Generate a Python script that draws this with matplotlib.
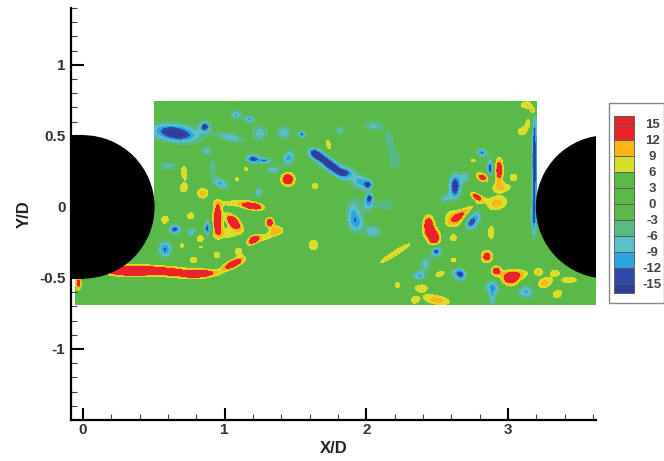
#!/usr/bin/env python3
"""Vorticity-style contour map between two cylinders, with a boxed level legend."""

import matplotlib
matplotlib.use("Agg")
import matplotlib.pyplot as plt
from matplotlib.colors import BoundaryNorm, ListedColormap
from matplotlib.patches import Circle, Rectangle
import numpy as np

plt.rcParams["font.family"] = ["Liberation Sans", "DejaVu Sans"]

levels = [-15, -12, -9, -6, -3, 0, 3, 6, 9, 12, 15]
band_colors = ["#2f3d9a", "#3149a8", "#2ba6e0", "#5cc0cb", "#58b985", "#5ab947",
               "#5ab947", "#5ab947", "#d9de2b", "#fdb515", "#e8232a", "#e8232a"]
level_labels = ["15", "12", "9", "6", "3", "0", "-3", "-6", "-9", "-12", "-15"]

x_ticks = [0, 1, 2, 3]
y_ticks = [-1, -0.5, 0, 0.5, 1]
y_tick_labels = ["-1", "-0.5", "0", "0.5", "1"]

# flow patches: x, y, half width, half height, tilt (deg), level
patches_left = [
    (0.65, 0.52, 0.09, 0.035, -8, -19), (0.86, 0.566, 0.022, 0.022, 20, -16),
    (1.08, 0.648, 0.024, 0.02, 0, -10), (1.175, 0.617, 0.022, 0.016, 0, -11),
    (1.04, 0.488, 0.06, 0.02, -12, -9), (1.25, 0.52, 0.035, 0.035, 0, -8),
    (1.415, 0.523, 0.03, 0.028, 0, -9), (1.544, 0.512, 0.018, 0.014, 0, -14),
    (0.873, 0.394, 0.024, 0.02, 0, -8), (1.198, 0.338, 0.028, 0.02, 0, -16),
    (1.285, 0.326, 0.025, 0.012, 0, -13), (1.344, 0.26, 0.03, 0.018, 0, -9),
    (1.45, 0.343, 0.024, 0.035, -20, -11), (1.445, 0.195, 0.028, 0.028, 0, 18),
    (0.713, 0.244, 0.016, 0.04, 10, 9), (0.708, 0.132, 0.024, 0.024, 0, 8),
    (0.845, 0.096, 0.028, 0.026, 0, 10), (0.6, 0.289, 0.04, 0.02, 0, -7),
    (0.967, 0.167, 0.04, 0.024, -25, -10), (0.916, 0.284, 0.016, 0.03, 0, -7),
    (1.085, 0.195, 0.02, 0.014, 0, 7), (1.15, 0.268, 0.016, 0.024, 30, 7),
    (1.238, 0.101, 0.022, 0.022, 0, -8), (0.579, -0.091, 0.024, 0.028, 0, 8),
    (0.76, -0.063, 0.024, 0.022, 0, 8), (0.645, -0.157, 0.026, 0.02, 0, -15),
    (0.878, -0.157, 0.016, 0.034, 0, -16), (0.772, -0.18, 0.024, 0.022, 0, -9),
    (0.826, -0.22, 0.024, 0.02, 0, 9), (0.579, -0.298, 0.028, 0.034, 0, -13),
    (0.697, -0.272, 0.018, 0.018, 0, 7), (0.833, -0.284, 0.02, 0.012, 0, 6),
    (0.949, -0.08, 0.018, 0.06, 0, 19), (1.06, -0.103, 0.04, 0.02, -45, 19),
    (1.203, 0.002, 0.04, 0.013, -8, 18), (1.085, 0.026, 0.09, 0.018, 0, 8),
    (1.316, -0.108, 0.018, 0.02, 0, 16), (1.367, -0.162, 0.03, 0.02, 0, 9),
    (1.203, -0.232, 0.028, 0.015, 35, 16), (1.297, -0.209, 0.05, 0.016, 20, 8),
    (1.014, -0.185, 0.07, 0.03, 0, 8), (0.309, -0.455, 0.09, 0.018, 0, 18),
    (0.544, -0.452, 0.15, 0.02, -3, 19), (0.826, -0.472, 0.07, 0.016, 5, 15),
    (1.06, -0.401, 0.05, 0.016, 25, 18), (0.944, -0.338, 0.02, 0.02, 0, 8),
    (1.097, -0.314, 0.024, 0.022, 0, 8), (0.779, -0.373, 0.022, 0.02, 0, 8),
    (1.626, -0.268, 0.026, 0.028, 0, 9), (-0.033, -0.537, 0.012, 0.03, 0, 14),
    (1.638, 0.148, 0.02, 0.02, 0, 8),
]
patches_right = [
    (1.64, 0.37, 0.03, 0.02, -30, -16), (1.744, 0.296, 0.07, 0.026, -38, -19),
    (1.861, 0.242, 0.035, 0.025, 0, -10), (2.014, 0.155, 0.018, 0.02, -30, -16),
    (2.021, 0.066, 0.016, 0.018, 0, -16), (1.955, 0.178, 0.03, 0.03, 0, -10),
    (2.014, 0.014, 0.025, 0.025, 0, -9), (1.908, -0.033, 0.03, 0.06, 0, -8),
    (1.932, -0.115, 0.035, 0.04, 0, -8), (2.049, -0.174, 0.035, 0.025, 0, -9),
    (2.132, 0.014, 0.035, 0.028, 0, -6), (1.732, 0.437, 0.014, 0.035, 15, 8),
    (2.05, 0.57, 0.045, 0.026, 0, -7), (1.814, 0.538, 0.02, 0.024, 0, -7),
    (2.162, 0.472, 0.022, 0.04, 0, -6), (2.2, 0.331, 0.03, 0.045, 0, -6),
    (2.814, 0.383, 0.022, 0.018, 0, -13), (2.755, 0.326, 0.018, 0.014, 0, 7),
    (2.873, 0.272, 0.014, 0.035, 0, -16), (2.937, 0.26, 0.016, 0.05, 0, 17),
    (2.819, 0.209, 0.028, 0.016, -25, 15), (3.038, 0.209, 0.024, 0.02, 0, 8),
    (2.955, 0.139, 0.055, 0.022, 0, 8), (2.626, 0.143, 0.024, 0.05, 0, -18),
    (2.697, 0.209, 0.02, 0.024, 0, -8), (2.774, 0.073, 0.024, 0.012, -30, 16),
    (2.555, 0.054, 0.024, 0.024, 0, -7), (2.92, 0.026, 0.055, 0.035, 15, 10),
    (2.626, -0.08, 0.05, 0.045, 0, 10), (2.72, -0.02, 0.08, 0.016, 35, 8),
    (2.732, -0.115, 0.025, 0.03, -35, -15), (2.779, -0.056, 0.03, 0.035, 0, -8),
    (2.438, -0.13, 0.022, 0.04, 0, 18), (2.478, -0.22, 0.024, 0.032, 0, 19),
    (2.614, -0.22, 0.018, 0.02, 0, 8), (2.492, -0.312, 0.022, 0.022, 0, -16),
    (2.202, -0.326, 0.13, 0.016, 32, 8), (2.88, -0.181, 0.02, 0.045, 0, 8),
    (2.849, -0.35, 0.024, 0.026, 0, 15), (2.915, -0.451, 0.02, 0.02, 0, 15),
    (3.014, -0.502, 0.04, 0.032, 0, 18), (3.1, -0.47, 0.035, 0.02, 0, 7),
    (3.214, -0.455, 0.024, 0.02, 0, 9), (3.332, -0.462, 0.026, 0.016, 0, 8),
    (3.254, -0.538, 0.04, 0.024, 25, 10), (3.433, -0.514, 0.05, 0.018, 0, 8),
    (3.348, -0.613, 0.035, 0.024, 30, 8), (3.127, -0.596, 0.04, 0.03, 0, -10),
    (2.897, -0.561, 0.04, 0.03, 0, -9), (2.889, -0.643, 0.016, 0.05, 0, -8),
    (2.668, -0.479, 0.022, 0.024, 0, -14), (2.614, -0.455, 0.03, 0.022, 0, -8),
    (2.372, -0.486, 0.03, 0.022, 0, -10), (2.417, -0.401, 0.024, 0.03, 0, -8),
    (2.532, -0.467, 0.05, 0.018, 25, 8), (2.386, -0.568, 0.04, 0.022, 0, 8),
    (2.219, -0.549, 0.022, 0.026, 0, 7), (2.497, -0.655, 0.07, 0.024, -10, 10),
    (2.339, -0.66, 0.022, 0.02, 0, 7), (2.614, -0.373, 0.02, 0.02, 0, 7),
    (3.144, 0.594, 0.02, 0.028, 0, 7), (3.097, 0.531, 0.026, 0.024, 0, 8),
    (3.132, 0.718, 0.034, 0.02, 0, 9), (3.179, 0.678, 0.012, 0.018, 0, 15),
    (3.185, 0.32, 0.011, 0.24, 0, -19), (3.179, -0.068, 0.014, 0.07, 0, -8),
]

fig = plt.figure(figsize=(6.64, 4.61), dpi=100)
ax = fig.add_axes([71 / 664, 1 - 420 / 461, 525 / 664, 412 / 461])

xs = np.linspace(-0.05, 3.62, 900)
ys = np.linspace(-0.69, 0.74, 400)
grid_x, grid_y = np.meshgrid(xs, ys)
field = np.zeros_like(grid_x)
for px, py, wx, wy, tilt, level in patches_left + patches_right:
    t = np.deg2rad(tilt)
    u = (grid_x - px) * np.cos(t) + (grid_y - py) * np.sin(t)
    v = -(grid_x - px) * np.sin(t) + (grid_y - py) * np.cos(t)
    # sizes above are visible extents, the bump has to be a bit wider
    field += level * np.exp(-0.5 * ((u / (wx * 1.25)) ** 2 + (v / (wy * 1.25)) ** 2))

# nothing was measured in the upper corners beside the cylinders
outside = ((grid_x < 0.5) | (grid_x > 3.2)) & (grid_y > 0)
field = np.ma.masked_where(outside, field)

cmap = ListedColormap(band_colors[1:-1])
cmap.set_under(band_colors[0])
cmap.set_over(band_colors[-1])
norm = BoundaryNorm(levels, cmap.N)
ax.contourf(xs, ys, field, levels=levels, cmap=cmap, norm=norm, extend="both")

ax.add_patch(Circle((0, 0), 0.5, color="black", zorder=3))
ax.add_patch(Circle((3.7, 0), 0.5, color="black", zorder=3))

ax.set_xlim(-0.085, 3.62)
ax.set_ylim(-1.5, 1.4)
ax.spines["top"].set_visible(False)
ax.spines["right"].set_visible(False)
ax.spines["left"].set_linewidth(1.6)
ax.spines["bottom"].set_linewidth(1.6)
ax.set_xticks(x_ticks)
ax.set_yticks(y_ticks)
ax.set_yticklabels(y_tick_labels)
ax.set_xticks(np.arange(0, 3.7, 0.2), minor=True)
ax.set_yticks(np.arange(-1.4, 1.41, 0.1), minor=True)
ax.tick_params(which="major", direction="in", length=9, width=1.5, labelsize=11,
               labelcolor="#333333", pad=4)
ax.tick_params(axis="x", which="major", pad=2)
ax.tick_params(which="minor", direction="in", length=4, width=0.8, color="#444444")
for label in ax.get_xticklabels() + ax.get_yticklabels():
    label.set_fontweight("bold")
ax.set_xlabel("X/D", fontsize=12, fontweight="bold", color="#222222", labelpad=3)
ax.set_ylabel("Y/D", fontsize=12, fontweight="bold", color="#222222", labelpad=5)

# legend box, drawn in figure pixels
legend = fig.add_axes([0, 0, 1, 1], facecolor="none")
legend.set_xlim(0, 664)
legend.set_ylim(461, 0)
legend.axis("off")
legend.add_patch(Rectangle((609, 103), 55, 200, fc="white", ec="#888888", lw=1))
cell_h = 16
cell_tops = [115.5] + [124 + i * cell_h for i in range(11)]
cell_heights = [8.5] + [cell_h] * 10 + [8.5]
for top, height, color in zip(cell_tops, cell_heights, band_colors[::-1]):
    legend.add_patch(Rectangle((614, top), 20, height, fc=color, ec="#555555", lw=0.6))
for i, text in enumerate(level_labels):
    legend.text(652, 125 + i * cell_h, text, ha="center", va="center", fontsize=9.5,
                fontweight="bold", color="#444444")

fig.savefig("out.png", dpi=100)
